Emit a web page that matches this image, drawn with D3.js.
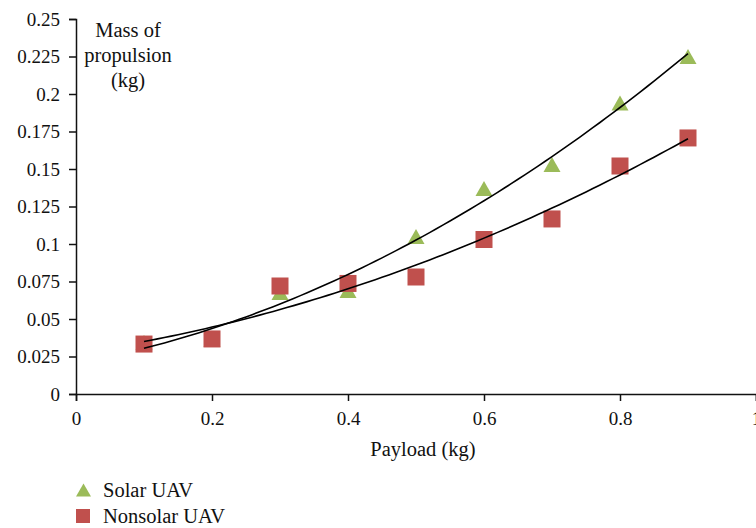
<!DOCTYPE html>
<html>
<head>
<meta charset="utf-8">
<script src="https://cdn.jsdelivr.net/npm/d3@7"></script>
<style>
  html, body { margin: 0; padding: 0; background: #fff; }
  svg text { font-family: "Liberation Serif", "Times New Roman", serif; fill: #111; }
</style>
</head>
<body>
<svg id="chart" width="756" height="528"></svg>
<script>
const WIDTH = 756;
const HEIGHT = 528;

// data
const payload = [0.1, 0.2, 0.3, 0.4, 0.5, 0.6, 0.7, 0.8, 0.9];
const solarMass = [0.0343, 0.0365, 0.0677, 0.069, 0.105, 0.137, 0.153, 0.194, 0.225];
const nonsolarMass = [0.0333, 0.0367, 0.072, 0.0737, 0.078, 0.103, 0.1167, 0.152, 0.1707];
const xTicks = [0, 0.2, 0.4, 0.6, 0.8, 1];
const yTicks = [0, 0.025, 0.05, 0.075, 0.1, 0.125, 0.15, 0.175, 0.2, 0.225, 0.25];
const seriesNames = ["Solar UAV", "Nonsolar UAV"];

const GREEN = "#9bbb59";
const RED = "#c0504d";

const svg = d3.select("#chart");
const x = d3.scaleLinear().domain([0, 1]).range([76, 756]);
const y = d3.scaleLinear().domain([0, 0.25]).range([394, 19]);

// least squares quadratic, like a spreadsheet trendline
function quadFit(xs, ys) {
  let s = [0, 0, 0, 0, 0], t = [0, 0, 0];
  xs.forEach((xv, i) => {
    for (let k = 0; k < 5; k++) s[k] += Math.pow(xv, k);
    for (let k = 0; k < 3; k++) t[k] += ys[i] * Math.pow(xv, k);
  });
  const A = [[s[0], s[1], s[2], t[0]], [s[1], s[2], s[3], t[1]], [s[2], s[3], s[4], t[2]]];
  for (let i = 0; i < 3; i++) {
    for (let j = i + 1; j < 3; j++) {
      const f = A[j][i] / A[i][i];
      for (let k = i; k < 4; k++) A[j][k] -= f * A[i][k];
    }
  }
  const c = [0, 0, 0];
  for (let i = 2; i >= 0; i--) {
    let v = A[i][3];
    for (let k = i + 1; k < 3; k++) v -= A[i][k] * c[k];
    c[i] = v / A[i][i];
  }
  return xv => c[0] + c[1] * xv + c[2] * xv * xv;
}

// triangle marker centered on its box (w x h)
function triPath(w, h) {
  return `M0,${-h / 2}L${w / 2},${h / 2}L${-w / 2},${h / 2}Z`;
}

// axes
const yAxis = d3.axisLeft(y).tickValues(yTicks).tickSize(7).tickPadding(9)
  .tickFormat(d => String(+d.toFixed(3)));
svg.append("g").attr("transform", `translate(${x(0)},0)`).call(yAxis);

const xAxis = d3.axisBottom(x).tickValues(xTicks).tickSize(7).tickPadding(11)
  .tickFormat(d => String(+d.toFixed(1)));
svg.append("g").attr("transform", `translate(0,${y(0)})`).call(xAxis);

svg.selectAll(".domain").attr("stroke", "#111").attr("stroke-width", 1.5);
svg.selectAll(".tick line").attr("stroke", "#111").attr("stroke-width", 1.5);
svg.selectAll(".tick text").attr("font-size", 19).attr("fill", "#111")
  .style("font-family", '"Liberation Serif", serif');

// axis titles
svg.append("text").attr("x", 423).attr("y", 456).attr("text-anchor", "middle")
  .attr("font-size", 20.5).text("Payload (kg)");
const yTitle = svg.append("text").attr("text-anchor", "middle").attr("font-size", 20.5);
["Mass of", "propulsion", "(kg)"].forEach((s, i) => {
  yTitle.append("tspan").attr("x", 128).attr("y", 37 + i * 25).text(s);
});

// markers
svg.append("g").selectAll("path")
  .data(payload.map((p, i) => [p, solarMass[i]]))
  .join("path")
  .attr("d", triPath(17, 15))
  .attr("transform", d => `translate(${x(d[0])},${y(d[1])})`)
  .attr("fill", GREEN);

svg.append("g").selectAll("rect")
  .data(payload.map((p, i) => [p, nonsolarMass[i]]))
  .join("rect")
  .attr("x", d => x(d[0]) - 8.5)
  .attr("y", d => y(d[1]) - 8.5)
  .attr("width", 17).attr("height", 17)
  .attr("fill", RED);

// trendlines
const line = d3.line().x(d => x(d[0])).y(d => y(d[1]));
[solarMass, nonsolarMass].forEach(vals => {
  const f = quadFit(payload, vals);
  const pts = d3.range(0.1, 0.9001, 0.01).map(p => [p, f(p)]);
  svg.append("path").datum(pts).attr("d", line)
    .attr("fill", "none").attr("stroke", "#000").attr("stroke-width", 1.6);
});

// legend
const legend = svg.append("g");
legend.append("path").attr("d", triPath(15, 13))
  .attr("transform", "translate(83.5,490)").attr("fill", GREEN);
legend.append("rect").attr("x", 76).attr("y", 509).attr("width", 14).attr("height", 14).attr("fill", RED);
seriesNames.forEach((s, i) => {
  legend.append("text").attr("x", 103).attr("y", 497 + i * 26).attr("font-size", 20.5).text(s);
});
</script>
</body>
</html>
